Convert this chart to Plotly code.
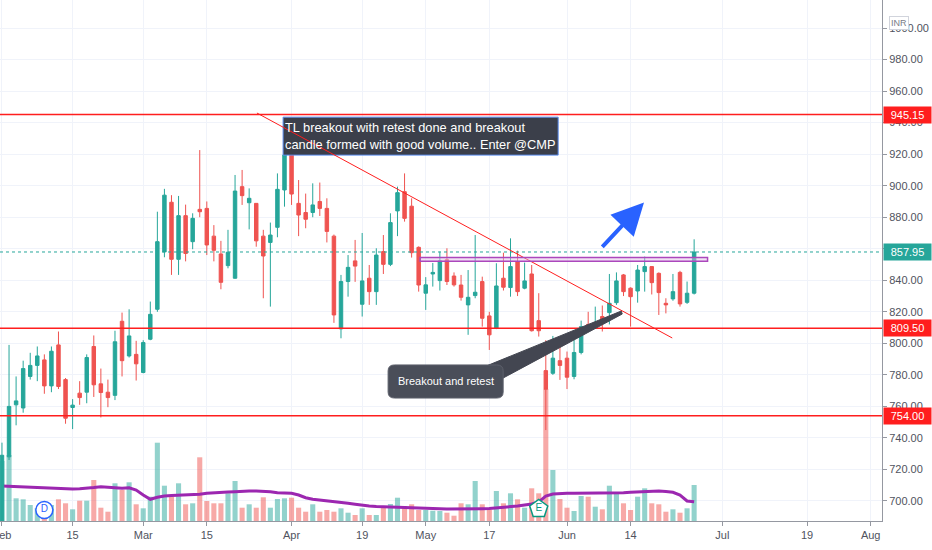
import plotly.graph_objects as go

# daily bars, 1 Feb 2021 .. 25 Jun 2021 (NSE trading days), x = bar number
opens = [680, 728, 761, 759, 779, 786, 789.5, 773, 799, 777,
         759.3, 768.4, 769, 798, 774.3, 769, 767, 814, 792, 793,
         781.5, 802.6, 821.6, 858, 889.5, 853.3, 881, 864.5, 885, 885.6,
         868, 856.7, 849.3, 841.3, 899.4, 889.2, 888.8, 868, 864, 873.6,
         897.3, 929.4, 888.8, 883, 883, 890, 885.6, 868, 809.2, 839.2,
         852.3, 824.8, 841.3, 832.8, 858.2, 850.1, 884, 896.2, 887, 860.9,
         831.8, 844, 839.8, 853, 842.7, 837, 824.4, 830.3, 839.2, 817.4,
         809.6, 841.3, 835.4, 851.8, 835, 844, 814.4, 782.7, 781, 789,
         790.6, 779, 794.2, 812, 810.6, 817, 819.5, 825.8, 843.4, 835,
         833.2, 845.5, 848.7, 844.4, 825.4, 828.2, 845, 826, 831.8]
highs = [737, 799, 779, 789, 794, 798, 793, 798, 807.5, 778,
         764.6, 776, 793, 805, 784, 777, 808, 819.5, 821.6, 801.6,
         802, 826.5, 883.5, 898, 894, 893.5, 888, 882.5, 922.6, 890,
         875, 865, 872, 906.8, 910, 898.3, 889, 872, 876.6, 907.8,
         925, 934, 903.6, 895, 901.5, 902, 892, 869, 843.4, 856,
         865.6, 870, 849.7, 860.3, 868.7, 882.5, 899.4, 907.8, 892, 861.5,
         842, 851, 858.2, 860.3, 845, 843.4, 846.5, 868.7, 842.3, 820,
         850.8, 857.5, 866.6, 858.8, 851.2, 849.7, 831.8, 802, 804.7, 800,
         794.8, 807.5, 814.4, 820, 823.3, 824, 844, 845, 844, 835.5,
         849.7, 855, 849, 845, 828.6, 844, 846, 839.2, 866]
lows = [676, 726, 748, 756, 777, 776, 768, 769, 771, 749,
        745.6, 761, 762, 766, 753, 759.5, 764, 779, 791, 776.4,
        781, 802, 820, 854.6, 843.4, 843.4, 852, 859.7, 880, 856,
        852, 834.3, 847.6, 841, 887.8, 872.3, 861.3, 828.6, 823.3, 867.3,
        886.7, 887.8, 868, 873, 880, 880.8, 864, 813, 803.2, 829.6,
        839, 817, 824.4, 824.4, 844, 849, 868, 877.2, 854.4, 832.8,
        821.2, 836, 833.5, 837, 836, 827.1, 805.4, 828.6, 810.6, 795.8,
        809, 833.5, 829.6, 830, 834.3, 807.5, 804.3, 745, 780, 776.8,
        771, 777.2, 793, 808.5, 810, 807.5, 812, 824.4, 830, 810.6,
        825.8, 832.8, 831, 818, 819, 827, 823.3, 825, 831]
closes = [729, 760, 763.5, 784, 786, 792, 773, 795, 772.6, 752.5,
          760.8, 765.6, 791, 773.7, 768.8, 765.6, 801, 789, 804.7, 787,
          800.5, 818.4, 864.5, 894, 853.3, 881, 857, 879.3, 883.5, 862.4,
          859, 838.7, 857.8, 896.6, 893.7, 892, 865, 855.4, 868.7, 897.7,
          919.5, 894.7, 881.4, 878.7, 887.8, 885.6, 871, 818, 839.2, 848.2,
          849, 839.6, 832.8, 856, 850.1, 876.6, 895.6, 879.3, 857.5, 837,
          837.1, 845, 852.3, 839.2, 837.1, 829.2, 829.2, 832.4, 815.9, 805.4,
          836.4, 835.6, 848.7, 832.8, 839.6, 808, 808, 770.9, 790.6, 786,
          778.5, 794.2, 810.6, 809.2, 813.2, 814.9, 825.4, 839.6, 832.8, 829.6,
          846.5, 848.7, 838.5, 832.2, 824.4, 832.8, 825, 831.8, 857.95]
# volume in thousands of shares
volume = [600, 660, 227, 217, 160, 130, 180, 160, 217, 177,
          117, 203, 203, 410, 133, 93, 377, 310, 387, 167,
          127, 243, 783, 353, 243, 377, 167, 177, 637, 200,
          177, 177, 277, 400, 133, 167, 133, 237, 133, 220,
          227, 233, 133, 93, 167, 93, 110, 93, 127, 83,
          60, 127, 60, 60, 143, 170, 233, 150, 167, 110,
          110, 103, 100, 83, 53, 177, 167, 400, 167, 110,
          300, 177, 277, 217, 133, 327, 277, 1320, 510, 220,
          133, 100, 250, 243, 143, 117, 353, 283, 177, 110,
          243, 327, 177, 167, 93, 117, 83, 127, 360]
# 20 day volume average as drawn on the chart
volume_ma = [350, 347, 343, 340, 335, 333, 330, 327, 323, 320,
             320, 323, 327, 335, 343, 340, 333, 327, 333, 310,
             260, 217, 237, 250, 255, 257, 260, 263, 267, 277,
             283, 287, 290, 293, 300, 300, 300, 297, 293, 283,
             277, 277, 260, 233, 217, 210, 203, 193, 187, 177,
             167, 155, 150, 145, 143, 140, 140, 140, 137, 133,
             130, 127, 123, 120, 120, 120, 117, 120, 123, 125,
             130, 133, 140, 150, 160, 170, 190, 250, 270, 275,
             277, 277, 277, 277, 277, 277, 280, 280, 283, 287,
             290, 293, 297, 300, 295, 287, 260, 200, 193]

levels = [945.15, 809.50, 754.00]
last_price = 857.95
price_ticks = list(range(700, 1001, 20))
x_tick_pos = [0, 10, 20, 29, 41, 51, 60, 69, 80, 89, 102, 114, 123]
x_tick_text = ["Feb", "15", "Mar", "15", "Apr", "19", "May", "17", "Jun", "14", "Jul", "19", "Aug"]

UP = "#26a69a"
DOWN = "#ef5350"
RED = "#ff1e1e"
FONT = "Liberation Sans, Arial, sans-serif"

bars = list(range(len(closes)))
vol_colors = ["rgba(38,166,154,0.5)" if c >= o else "rgba(239,83,80,0.5)"
              for o, c in zip(opens, closes)]

fig = go.Figure()
fig.add_trace(go.Bar(x=bars, y=volume, marker=dict(color=vol_colors, line_width=0),
                     width=0.72, yaxis="y", hoverinfo="skip"))
fig.add_trace(go.Scatter(x=bars, y=volume_ma, mode="lines", yaxis="y",
                         line=dict(color="#9c27b0", width=3), hoverinfo="skip"))

# note box at the top: a filled outline under the candles
bx0, bx1, by0, by1 = 39.8, 78.75, 919.4, 943.5
fig.add_trace(go.Scatter(x=[bx0, bx1, bx1, bx0, bx0], y=[by0, by0, by1, by1, by0], yaxis="y2",
                         mode="lines", fill="toself", fillcolor="#3b3f4a",
                         line=dict(color="#5b8def", width=1), hoverinfo="skip"))

# dividend / earnings flags
fig.add_trace(go.Scatter(x=[6], y=[694.3], yaxis="y2", mode="markers+text", text=["D"],
                         textfont=dict(color="#2962ff", size=10, family=FONT),
                         marker=dict(symbol="circle", size=17, color="white",
                                     line=dict(color="#2962ff", width=1.5)),
                         hoverinfo="skip"))
fig.add_trace(go.Scatter(x=[76], y=[695], yaxis="y2", mode="markers+text", text=["E"],
                         textfont=dict(color="#089981", size=10, family=FONT),
                         marker=dict(symbol="pentagon", size=19, color="white",
                                     line=dict(color="#089981", width=1.5)),
                         hoverinfo="skip"))

fig.add_trace(go.Candlestick(x=bars, open=opens, high=highs, low=lows, close=closes,
                             yaxis="y2", whiskerwidth=0,
                             increasing=dict(line=dict(color=UP, width=1), fillcolor=UP),
                             decreasing=dict(line=dict(color=DOWN, width=1), fillcolor=DOWN)))

shapes = []
for lv in levels:
    shapes.append(dict(type="line", xref="paper", x0=0, x1=1, yref="y2", y0=lv, y1=lv,
                       line=dict(color=RED, width=1.5)))
shapes.append(dict(type="line", xref="paper", x0=0, x1=1, yref="y2", y0=last_price, y1=last_price,
                   line=dict(color=UP, width=1, dash="dot")))

# trendline and resistance zone
shapes.append(dict(type="line", xref="x", yref="y2", x0=36.1, y0=946.1, x1=94.9, y1=803.4,
                   line=dict(color=RED, width=1)))
shapes.append(dict(type="rect", xref="x", yref="y2", x0=59.2, x1=99.9, y0=852.0, y1=854.5,
                   line=dict(color="#ab47bc", width=1.5), fillcolor="rgba(225,190,231,0.45)"))


def rounded(x0, x1, y0, y1, rx, ry):
    return (f"M{x0+rx},{y0} L{x1-rx},{y0} Q{x1},{y0} {x1},{y0+ry} L{x1},{y1-ry} "
            f"Q{x1},{y1} {x1-rx},{y1} L{x0+rx},{y1} Q{x0},{y1} {x0},{y1-ry} "
            f"L{x0},{y0+ry} Q{x0},{y0} {x0+rx},{y0} Z")


# callout "Breakout and retest"
shapes.append(dict(type="path", xref="x", yref="y2",
                   path="M68.56,785.6 L87.68,820.5 L87.82,818.6 L70.96,778.0 Z",
                   fillcolor="#434651", line=dict(color="#434651", width=1)))
shapes.append(dict(type="path", xref="x", yref="y2",
                   path=rounded(54.67, 70.96, 765.3, 786.3, 0.9, 3.8),
                   fillcolor="#4a4e59", line=dict(color="#5d606b", width=1)))

annotations = [
    dict(xref="x", yref="y2", x=40.2, y=943.3, xanchor="left", yanchor="top", showarrow=False,
         xshift=-3, yshift=-1, align="left", font=dict(color="white", size=12.8, family=FONT),
         text="TL breakout with retest done and breakout<br>candle formed with good volume.. Enter @CMP"),
    dict(xref="x", yref="y2", x=62.8, y=775.8, showarrow=False,
         font=dict(color="white", size=11, family=FONT), text="Breakout and retest"),
    dict(xref="x", yref="y2", x=90.9, y=889.4, ax=84.8, ay=860.3, axref="x", ayref="y2",
         text="", showarrow=True, arrowhead=2, arrowsize=1.6, arrowwidth=4, arrowcolor="#2962ff"),
    dict(xref="paper", yref="paper", x=1.0306, y=0.969, showarrow=False, text="INR",
         font=dict(color="#787b86", size=9, family=FONT), bgcolor="white",
         bordercolor="#d1d4dc", borderwidth=1, borderpad=1),
]
for lv in levels:
    annotations.append(dict(xref="paper", yref="y2", x=1, y=lv, xanchor="left", xshift=1,
                            showarrow=False, text=f"{lv:.2f}", width=45, height=14,
                            bgcolor=RED, font=dict(color="white", size=11, family=FONT)))
annotations.append(dict(xref="paper", yref="y2", x=1, y=last_price, xanchor="left", xshift=1,
                        showarrow=False, text=f"{last_price:.2f}", width=45, height=14,
                        bgcolor=UP, font=dict(color="white", size=11, family=FONT)))

fig.update_layout(
    width=932, height=550,
    margin=dict(l=0, r=50, t=0, b=29),
    paper_bgcolor="white", plot_bgcolor="white",
    showlegend=False, hovermode=False,
    font=dict(family=FONT, size=11, color="#50535e"),
    xaxis=dict(range=[-0.28, 124.6], tickmode="array", tickvals=x_tick_pos, ticktext=x_tick_text,
               showgrid=True, gridcolor="#f0f3fa", zeroline=False, showline=True,
               linecolor="#9598a1", ticks="outside", ticklen=4, tickcolor="#9598a1",
               ticklabeloverflow="allow", automargin=False,
               rangeslider=dict(visible=False), fixedrange=True),
    yaxis=dict(range=[0, 5210], visible=False, showgrid=False, fixedrange=True, automargin=False),
    yaxis2=dict(range=[687.3, 1017.8], overlaying="y", side="right", tickmode="array",
                tickvals=price_ticks, tickformat=".2f", showgrid=True, gridcolor="#f0f3fa",
                zeroline=False, showline=True, linecolor="#9598a1", ticks="outside",
                ticklen=4, tickcolor="#9598a1", fixedrange=True, automargin=False),
    shapes=shapes,
    annotations=annotations,
)

# drop the browser's default body margin so the chart sits at the window's corner
fig.write_html("out.html", config={"displayModeBar": False},
               post_script="document.body.style.margin='0';")
